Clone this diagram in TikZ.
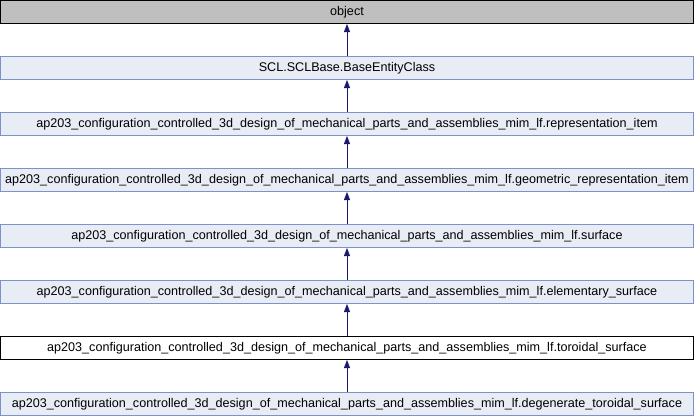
\documentclass[tikz,border=0pt]{standalone}
\usepackage{fontspec}
\setmainfont{Liberation Sans}
\usetikzlibrary{arrows.meta}
\definecolor{edgeblue}{HTML}{191970}
\definecolor{classfill}{HTML}{E8ECF5}
\definecolor{classline}{HTML}{7B93C9}
\definecolor{rootfill}{HTML}{BFBFBF}
\tikzset{
  x=1pt, y=1pt,
  cls/.style={draw=classline, fill=classfill, line width=1pt,
    minimum width=693pt, minimum height=23pt, inner sep=0pt,
    font=\fontsize{12.6pt}{14pt}\selectfont},
  rootcls/.style={cls, draw=black, fill=rootfill},
  curcls/.style={cls, draw=black, fill=white},
  inherit/.style={draw=edgeblue, line width=0.8pt,
    -{Triangle[length=8pt,width=6pt]}, color=edgeblue},
}
\begin{document}
\begin{tikzpicture}
\useasboundingbox (0,0) rectangle (694,-416);
\node[rootcls] (obj) at (347,-12) {object};
\node[cls] (base) at (347,-68) {SCL.SCLBase.BaseEntityClass};
\node[cls] (repitem) at (347,-124) {ap203\_configuration\_controlled\_3d\_design\_of\_mechanical\_parts\_and\_assemblies\_mim\_lf.representation\_item};
\node[cls] (geomitem) at (347,-180) {ap203\_configuration\_controlled\_3d\_design\_of\_mechanical\_parts\_and\_assemblies\_mim\_lf.geometric\_representation\_item};
\node[cls] (surf) at (347,-236) {ap203\_configuration\_controlled\_3d\_design\_of\_mechanical\_parts\_and\_assemblies\_mim\_lf.surface};
\node[cls] (elem) at (347,-292) {ap203\_configuration\_controlled\_3d\_design\_of\_mechanical\_parts\_and\_assemblies\_mim\_lf.elementary\_surface};
\node[curcls] (toro) at (347,-348) {ap203\_configuration\_controlled\_3d\_design\_of\_mechanical\_parts\_and\_assemblies\_mim\_lf.toroidal\_surface};
\node[cls] (degen) at (347,-404) {ap203\_configuration\_controlled\_3d\_design\_of\_mechanical\_parts\_and\_assemblies\_mim\_lf.degenerate\_toroidal\_surface};
\draw[inherit] (base) -- (obj);
\draw[inherit] (repitem) -- (base);
\draw[inherit] (geomitem) -- (repitem);
\draw[inherit] (surf) -- (geomitem);
\draw[inherit] (elem) -- (surf);
\draw[inherit] (toro) -- (elem);
\draw[inherit] (degen) -- (toro);
\end{tikzpicture}
\end{document}
